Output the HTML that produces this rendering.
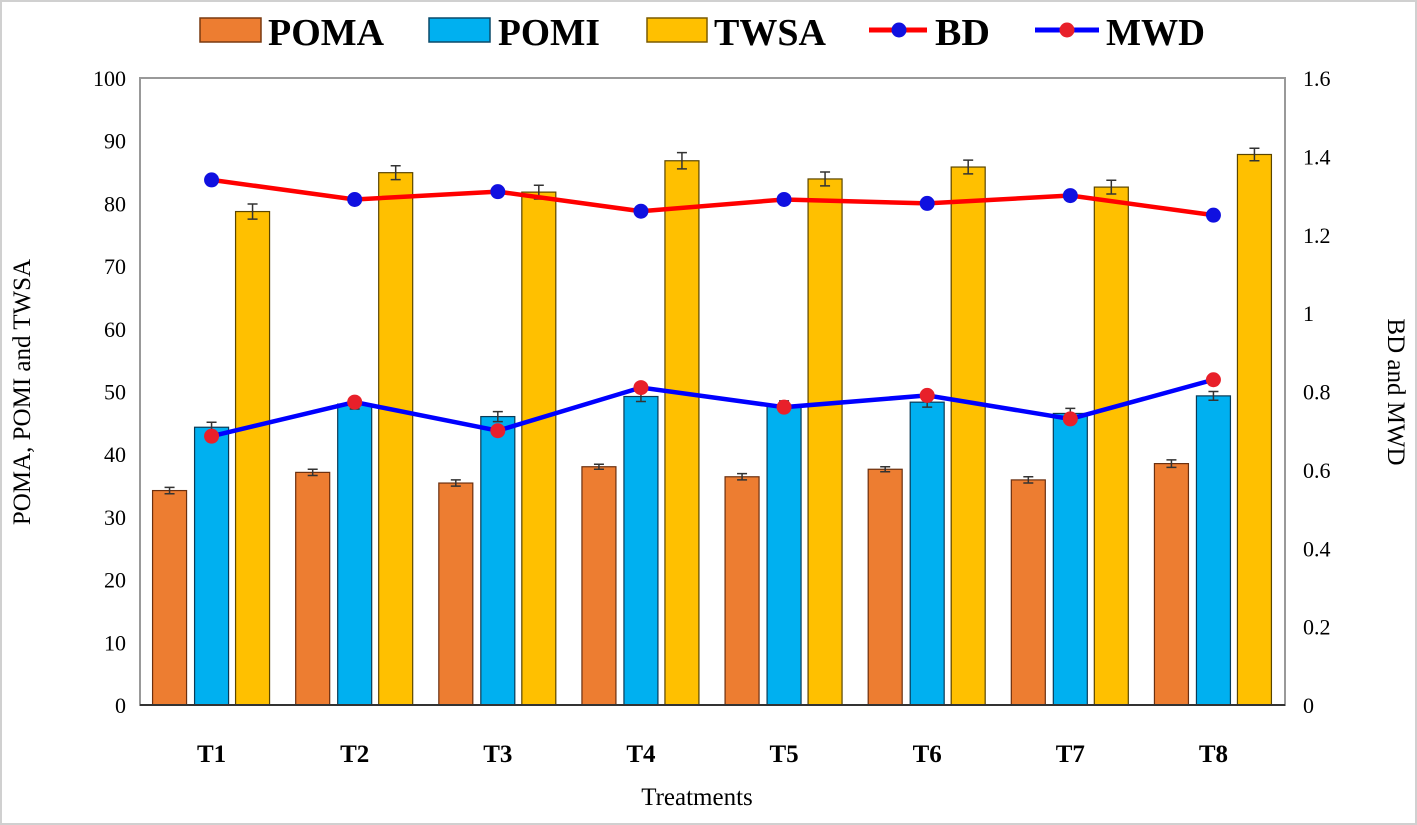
<!DOCTYPE html>
<html><head><meta charset="utf-8"><style>
html,body{margin:0;padding:0;background:#fff;}
svg{display:block;font-family:"Liberation Serif",serif;}
</style></head><body>
<svg id="chart" width="1417" height="825" viewBox="0 0 1417 825">
<rect x="1" y="1" width="1415" height="823" fill="#fff" stroke="#d0d0d0" stroke-width="2"/>
<g id="legend">
<g><rect x="200" y="18" width="61" height="24" fill="#ED7D31" stroke="#7a3a10" stroke-width="1.5"/><text x="268" y="45" font-size="38" font-weight="bold" textLength="116" lengthAdjust="spacingAndGlyphs">POMA</text></g>
<g><rect x="429" y="18" width="61" height="24" fill="#00B0F0" stroke="#0b4a6a" stroke-width="1.5"/><text x="498" y="45" font-size="38" font-weight="bold" textLength="102" lengthAdjust="spacingAndGlyphs">POMI</text></g>
<g><rect x="647" y="18" width="60" height="24" fill="#FFC000" stroke="#7a5a00" stroke-width="1.5"/><text x="714" y="45" font-size="38" font-weight="bold" textLength="112" lengthAdjust="spacingAndGlyphs">TWSA</text></g>
<g><line x1="869" y1="30" x2="927" y2="30" stroke="#FF0000" stroke-width="5"/><circle cx="899" cy="30" r="7.5" fill="#1010E0"/><text x="935" y="45" font-size="38" font-weight="bold" textLength="55" lengthAdjust="spacingAndGlyphs">BD</text></g>
<g><line x1="1035" y1="30" x2="1099" y2="30" stroke="#0000FF" stroke-width="5"/><circle cx="1067" cy="30" r="7.5" fill="#E8202A"/><text x="1106" y="45" font-size="38" font-weight="bold" textLength="99" lengthAdjust="spacingAndGlyphs">MWD</text></g>
</g>
<text x="697" y="805" font-size="25" text-anchor="middle">Treatments</text>
<text transform="translate(30,392) rotate(-90)" font-size="25" text-anchor="middle">POMA, POMI and TWSA</text>
<text transform="translate(1388,392) rotate(90)" font-size="25" text-anchor="middle">BD and MWD</text>
<g id="plot"></g>
</svg>
<script>
const categories = ["T1","T2","T3","T4","T5","T6","T7","T8"];
const poma = [34.2,37.1,35.4,38.0,36.4,37.6,35.9,38.5];
const pomi = [44.3,48.0,46.0,49.2,47.7,48.3,46.5,49.3];
const twsa = [78.7,84.9,81.8,86.8,83.9,85.8,82.6,87.8];
const pomaErr = [0.5,0.5,0.5,0.4,0.5,0.4,0.5,0.6];
const pomiErr = [0.8,0.8,0.8,0.8,0.8,0.8,0.8,0.7];
const twsaErr = [1.2,1.1,1.1,1.3,1.1,1.1,1.1,1.0];
const bd = [1.34,1.29,1.31,1.26,1.29,1.28,1.30,1.25];
const mwd = [0.686,0.773,0.70,0.81,0.76,0.79,0.73,0.83];
const leftTicks = [0,10,20,30,40,50,60,70,80,90,100];
const rightTicks = [0,0.2,0.4,0.6,0.8,1,1.2,1.4,1.6];

const NS="http://www.w3.org/2000/svg";
const g=document.getElementById('plot');
const X0=140,X1=1285,Y0=705,Y1=78;
const gw=(X1-X0)/categories.length;
const yL=v=>Y0-(v/100)*(Y0-Y1);
const yR=v=>Y0-(v/1.6)*(Y0-Y1);
const xc=i=>X0+gw*(i+0.5);
function mk(t,a){const e=document.createElementNS(NS,t);for(const k in a)e.setAttribute(k,a[k]);g.appendChild(e);return e;}

const frame=mk('rect',{x:X0,y:Y1,width:X1-X0,height:Y0-Y1,fill:'none',stroke:'#999','stroke-width':2});


leftTicks.forEach(v=>{const t=mk('text',{x:X0-14,y:yL(v)+8,'font-size':22,'text-anchor':'end'});t.textContent=v;

});
rightTicks.forEach(v=>{const t=mk('text',{x:X1+18,y:yR(v)+8,'font-size':22});t.textContent=v;

});
categories.forEach((c,i)=>{const t=mk('text',{x:xc(i),y:762,'font-size':25,'font-weight':'bold','text-anchor':'middle'});t.textContent=c;

});

const series=[[poma,pomaErr,'#ED7D31','#6b3010',-42,'poma'],[pomi,pomiErr,'#00B0F0','#0b3a55',0,'pomi'],[twsa,twsaErr,'#FFC000','#5a4500',41,'twsa']];
const bw=34;
series.forEach(s=>{
 s[0].forEach((v,i)=>{
  const cx=xc(i)+s[4];
  const r=mk('rect',{x:cx-bw/2,y:yL(v),width:bw,height:Y0-yL(v),fill:s[2],stroke:s[3],'stroke-width':1.2});
  
  
  const e=s[1][i],a=yL(v+e),b=yL(v-e);
  const eb=mk('path',{d:`M${cx},${a}V${b}M${cx-5},${a}H${cx+5}M${cx-5},${b}H${cx+5}`,stroke:'#333','stroke-width':1.5,fill:'none'});
  
  
 });
});
const ax=mk('line',{x1:X0,y1:Y0,x2:X1,y2:Y0,stroke:'#333','stroke-width':2});



function line(vals,col,mcol,name){
 const p=mk('polyline',{points:vals.map((v,i)=>xc(i)+','+yR(v)).join(' '),fill:'none',stroke:col,'stroke-width':4.5});
 
 
 vals.forEach((v,i)=>{const c=mk('circle',{cx:xc(i),cy:yR(v),r:7.5,fill:mcol});
  
  });
}
line(bd,'#FF0000','#1010E0','bd');
line(mwd,'#0000FF','#E8202A','mwd');
</script>
</body></html>
